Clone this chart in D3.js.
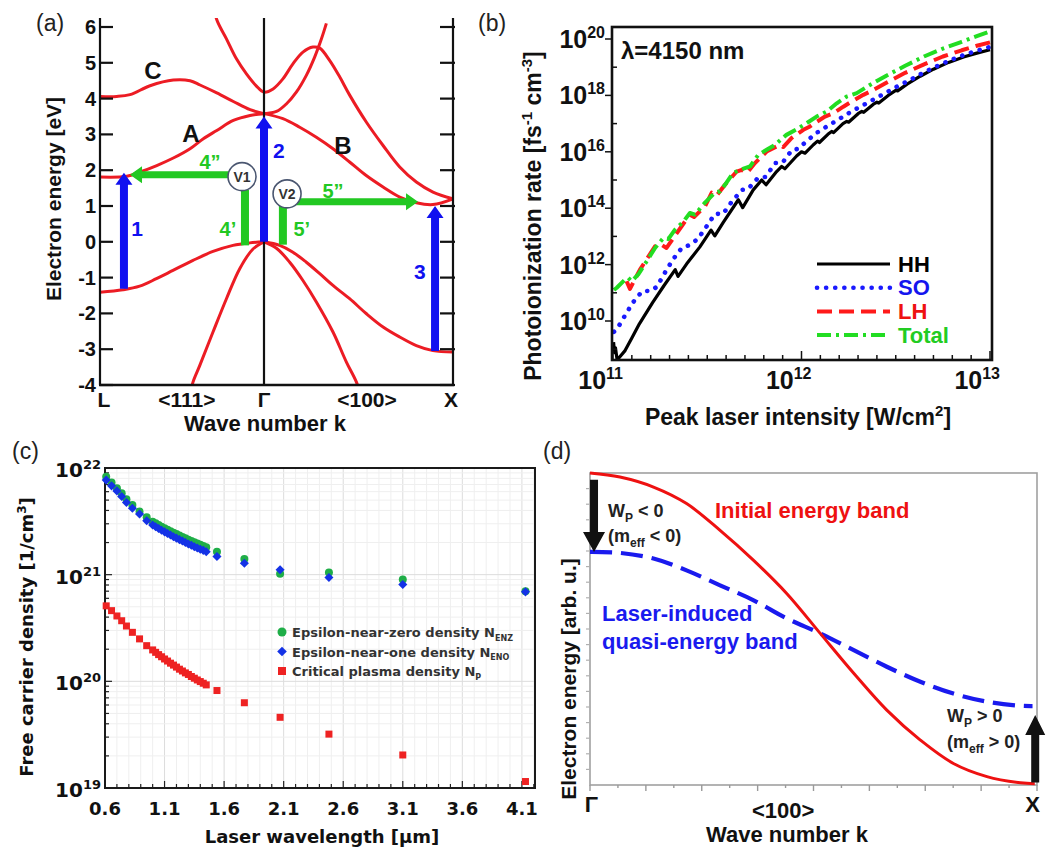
<!DOCTYPE html>
<html>
<head>
  <meta charset="utf-8">
  <script src="https://d3js.org/d3.v7.min.js"></script>
  <style>
    body { margin: 0; background: #ffffff; }
    svg { display: block; font-family: "Liberation Sans", Arial, sans-serif; }
  </style>
</head>
<body>
<svg id="fig" width="1056" height="850"></svg>
<script>
// ---------- (a) band structure, [k, E]  (k: L=-1, Γ=0, X=1)
const bandC  = [[-1,4.06],[-0.898,4.06],[-0.817,4.11],[-0.695,4.36],[-0.553,4.52],[-0.451,4.5],[-0.39,4.38],[-0.288,4.16],[-0.187,3.92],[-0.085,3.69],[0,3.58]]
const bandA  = [[-1,1.81],[-0.837,1.83],[-0.756,1.95],[-0.654,2.13],[-0.553,2.34],[-0.451,2.6],[-0.37,2.88],[-0.288,3.11],[-0.187,3.39],[-0.085,3.53],[0,3.58]]
const bandB  = [[0,3.58],[0.1,3.44],[0.189,3.2],[0.277,2.92],[0.365,2.6],[0.453,2.23],[0.541,1.85],[0.63,1.53],[0.718,1.25],[0.806,1.09],[0.894,1.04],[1,1.2]]
const bandD  = [[-0.31,6.8],[-0.29,6.23],[-0.229,5.67],[-0.168,5.11],[-0.107,4.69],[-0.046,4.35],[0,4.18],[0.048,4.27],[0.1,4.55],[0.153,4.97],[0.206,5.3],[0.259,5.44],[0.295,5.41],[0.348,5.06],[0.401,4.6],[0.454,4.09],[0.542,3.34],[0.63,2.69],[0.718,2.09],[0.806,1.67],[0.894,1.39],[1,1.2]]
const bandE  = [[0,3.58],[0.066,3.64],[0.118,3.85],[0.171,4.18],[0.224,4.65],[0.268,5.16],[0.304,5.67],[0.33,6.1]]
const bandV1 = [[-1,-1.41],[-0.86,-1.34],[-0.758,-1.24],[-0.656,-1.03],[-0.555,-0.8],[-0.433,-0.52],[-0.311,-0.27],[-0.189,-0.1],[-0.087,-0.03],[0,0]]
const bandVX = [[0,0],[0.083,-0.1],[0.153,-0.29],[0.224,-0.57],[0.295,-0.89],[0.365,-1.22],[0.453,-1.59],[0.542,-2.01],[0.63,-2.38],[0.718,-2.66],[0.806,-2.9],[0.894,-3.04],[1,-3.08]]
const bandSL = [[0,0],[-0.067,-0.2],[-0.148,-0.75],[-0.229,-1.59],[-0.311,-2.52],[-0.392,-3.46],[-0.433,-3.92],[-0.45,-4.3]]
const bandSR = [[0,0],[0.066,-0.18],[0.136,-0.57],[0.206,-1.08],[0.277,-1.68],[0.365,-2.52],[0.436,-3.36],[0.489,-3.92],[0.51,-4.3]]
const energyTicks = [-4,-3,-2,-1,0,1,2,3,4,5,6]
const kTickLabels = ["L", "<111>", "Γ", "<100>", "X"]
const kTickPos = [-1, -0.47, 0, 0.545, 1]

// ---------- (b) photoionization rate, [log10 I, log10 rate]
const hhRate = [[11.003,9.25],[11.008,8.88],[11.013,9.05],[11.022,8.62],[11.064,8.95],[11.1,9.4],[11.14,9.9],[11.21,10.65],[11.27,11.25],[11.33,11.82],[11.345,11.58],[11.39,12.02],[11.46,12.62],[11.52,13.22],[11.54,13.02],[11.585,13.5],[11.665,14.3],[11.688,14.02],[11.744,14.65],[11.789,15.0],[11.812,14.83],[11.868,15.3],[11.895,15.48],[11.912,15.4],[11.974,15.85],[12.0,16.0],[12.019,15.95],[12.063,16.25],[12.085,16.38],[12.095,16.33],[12.14,16.62],[12.16,16.72],[12.17,16.68],[12.22,17.0],[12.24,17.08],[12.25,17.05],[12.3,17.35],[12.32,17.43],[12.33,17.4],[12.38,17.68],[12.4,17.76],[12.41,17.73],[12.46,18.0],[12.5,18.18],[12.51,18.16],[12.56,18.4],[12.63,18.68],[12.7,18.93],[12.78,19.17],[12.86,19.36],[12.93,19.5],[13.0,19.62]]
const soRate = [[11.005,9.62],[11.02,9.7],[11.064,10.2],[11.106,10.66],[11.154,11.05],[11.207,11.08],[11.233,11.22],[11.276,11.72],[11.318,12.18],[11.366,12.6],[11.414,12.71],[11.451,12.92],[11.499,13.38],[11.541,13.8],[11.584,13.8],[11.63,14.23],[11.685,14.65],[11.716,14.68],[11.77,15.08],[11.81,15.11],[11.86,15.6],[11.9,15.62],[11.95,16.07],[11.98,16.1],[12.03,16.39],[12.08,16.67],[12.135,16.9],[12.19,17.12],[12.24,17.33],[12.29,17.52],[12.34,17.7],[12.4,17.92],[12.46,18.14],[12.52,18.36],[12.58,18.56],[12.64,18.78],[12.7,18.98],[12.76,19.16],[12.82,19.33],[12.88,19.48],[12.94,19.6],[13.0,19.72]]
const lhRate = [[11.072,11.41],[11.09,11.14],[11.143,11.82],[11.223,12.65],[11.25,12.73],[11.284,12.59],[11.364,13.36],[11.408,13.77],[11.43,13.69],[11.488,14.06],[11.524,14.55],[11.55,14.45],[11.594,14.83],[11.656,15.3],[11.683,15.36],[11.71,15.25],[11.753,15.6],[11.815,16.01],[11.886,16.25],[11.903,16.17],[11.948,16.49],[12.01,16.78],[12.045,16.9],[12.07,17.02],[12.125,17.25],[12.17,17.37],[12.222,17.6],[12.266,17.78],[12.328,18.02],[12.363,18.13],[12.45,18.45],[12.55,18.8],[12.65,19.1],[12.75,19.38],[12.85,19.6],[12.93,19.76],[13.0,19.88]]
const totalRate = [[11.005,11.1],[11.02,11.18],[11.064,11.47],[11.081,11.53],[11.099,11.41],[11.134,11.65],[11.179,12.12],[11.223,12.59],[11.267,12.94],[11.294,12.91],[11.329,13.24],[11.374,13.53],[11.408,13.83],[11.435,13.77],[11.488,14.2],[11.541,14.55],[11.568,14.6],[11.594,14.83],[11.637,15.25],[11.674,15.36],[11.727,15.48],[11.77,15.89],[11.815,16.07],[11.86,16.25],[11.92,16.6],[11.975,16.8],[12.028,17.02],[12.08,17.25],[12.134,17.43],[12.187,17.72],[12.24,17.96],[12.293,18.08],[12.363,18.37],[12.45,18.7],[12.55,19.05],[12.65,19.38],[12.75,19.66],[12.85,19.9],[12.93,20.1],[13.0,20.27]]
const rateSeries = ["HH", "SO", "LH", "Total"]
const rateExpTicks = [10, 12, 14, 16, 18, 20]
const intensityExpTicks = [11, 12, 13]

// ---------- (c) free carrier density vs wavelength [µm]
const wavelength = [0.61,0.655,0.7,0.74,0.78,0.83,0.89,0.95,
  1.0,1.025,1.05,1.075,1.1,1.125,1.15,1.175,1.2,1.225,1.25,1.275,1.3,1.325,1.35,1.375,1.4,1.425,1.45,
  1.54,1.77,2.07,2.48,3.1,4.13]
const nENZ = [8.3e21,7.3e21,6.45e21,5.8e21,5.1e21,4.5e21,3.9e21,3.45e21,
  3.14e21,3.03e21,2.92e21,2.82e21,2.73e21,2.64e21,2.55e21,2.47e21,2.4e21,2.33e21,2.26e21,2.19e21,2.13e21,2.07e21,2.01e21,1.96e21,1.91e21,1.86e21,1.81e21,
  1.64e21,1.4e21,1.02e21,1.05e21,9.0e20,7.0e20]
const nENO = [7.7e21,6.8e21,6.1e21,5.4e21,4.75e21,4.2e21,3.7e21,3.2e21,
  2.92e21,2.81e21,2.71e21,2.61e21,2.52e21,2.43e21,2.35e21,2.27e21,2.2e21,2.13e21,2.07e21,2.0e21,1.94e21,1.89e21,1.83e21,1.78e21,1.73e21,1.69e21,1.64e21,
  1.48e21,1.28e21,1.11e21,9.4e20,8.1e20,6.9e20]
const nP = [5.1e20,4.6e20,4.1e20,3.7e20,3.3e20,2.88e20,2.5e20,2.16e20,
  1.97e20,1.87e20,1.78e20,1.7e20,1.62e20,1.55e20,1.48e20,1.42e20,1.36e20,1.3e20,1.25e20,1.2e20,1.16e20,1.11e20,1.07e20,1.03e20,9.95e19,9.6e19,9.26e19,
  8.2e19,6.3e19,4.6e19,3.2e19,2.04e19,1.15e19]
const wavelengthTicks = [0.6, 1.1, 1.6, 2.1, 2.6, 3.1, 3.6, 4.1]
const densityExpTicks = [19, 20, 21, 22]

// ---------- (d) schematic bands, [k, E] (Γ=0, X=1)
const initialBand = [[0,1.0],[0.067,0.987],[0.142,0.955],[0.216,0.902],[0.291,0.816],[0.366,0.72],[0.44,0.614],[0.515,0.486],[0.59,0.358],[0.664,0.24],[0.739,0.144],[0.813,0.069],[0.888,0.027],[0.963,0.007],[0.995,0.004]]
const quasiBand = [[0,0.747],[0.067,0.744],[0.142,0.726],[0.216,0.688],[0.291,0.64],[0.366,0.592],[0.44,0.534],[0.515,0.486],[0.59,0.432],[0.664,0.379],[0.739,0.331],[0.813,0.293],[0.888,0.267],[0.963,0.254],[0.99,0.253]]

const SANS = "'Liberation Sans', Arial, sans-serif"
const WIDE = "'DejaVu Sans', Verdana, sans-serif"

const svg = d3.select("#fig")
const defs = svg.append("defs")

function rich(t, parts, size) {
  let shift = 0
  parts.forEach(p => {
    const kind = p[1] || "n"
    const target = kind === "sup" ? -0.4 * size : kind === "sub" ? 0.28 * size : 0
    t.append("tspan")
      .attr("dy", target - shift)
      .attr("font-size", kind === "n" ? size : Math.round(size * 0.65))
      .text(p[0])
    shift = target
  })
  return t
}

function arrow(g, x1, y1, x2, y2, color, sw, hw, hl) {
  const dx = x2 - x1, dy = y2 - y1, len = Math.hypot(dx, dy)
  const ux = dx / len, uy = dy / len, px = -uy, py = ux
  const bx = x2 - ux * hl, by = y2 - uy * hl
  const pts = [
    [x1 + px * sw / 2, y1 + py * sw / 2],
    [bx + px * sw / 2, by + py * sw / 2],
    [bx + px * hw / 2, by + py * hw / 2],
    [x2, y2],
    [bx - px * hw / 2, by - py * hw / 2],
    [bx - px * sw / 2, by - py * sw / 2],
    [x1 - px * sw / 2, y1 - py * sw / 2]
  ]
  g.append("polygon").attr("points", pts.map(p => p.join(",")).join(" ")).attr("fill", color)
}

function panelLabel(x, y, s) {
  svg.append("text").attr("x", x).attr("y", y)
    .attr("font-family", SANS).attr("font-size", 23).attr("fill", "#222")
    .text(s)
}

panelLabel(36, 31, "(a)")
panelLabel(478, 31, "(b)")
panelLabel(12, 459, "(c)")
panelLabel(543, 459, "(d)")

// ===================== (a)
{
  const g = svg.append("g")
  const x = d3.scaleLinear().domain([-1, 0, 1]).range([100, 264, 453])
  const y = d3.scaleLinear().domain([-4, 6]).range([385, 27])
  const red = "#ec1c24", blue = "#1010f0", green = "#22c822"

  defs.append("clipPath").attr("id", "clipA").append("rect")
    .attr("x", x(-1)).attr("y", 18).attr("width", x(1) - x(-1)).attr("height", y(-4) - 18)

  const line = d3.line().x(d => x(d[0])).y(d => y(d[1])).curve(d3.curveCatmullRom.alpha(0.5))
  g.append("g").attr("clip-path", "url(#clipA)")
    .selectAll("path")
    .data([bandC, bandA, bandB, bandD, bandE, bandV1, bandVX, bandSL, bandSR])
    .join("path")
    .attr("d", line).attr("fill", "none").attr("stroke", red).attr("stroke-width", 3)

  // frame lines
  ;[-1, 0, 1].forEach(k => {
    g.append("line").attr("x1", x(k)).attr("x2", x(k)).attr("y1", 18).attr("y2", y(-4))
      .attr("stroke", "#111").attr("stroke-width", 2.2)
  })
  g.append("line").attr("x1", x(-1) - 1).attr("x2", x(1) + 1).attr("y1", y(-4)).attr("y2", y(-4))
    .attr("stroke", "#111").attr("stroke-width", 2.5)

  g.selectAll(".tl").data(energyTicks).join("line")
    .attr("x1", x(-1)).attr("x2", x(-1) + 13).attr("y1", d => y(d)).attr("y2", d => y(d))
    .attr("stroke", "#111").attr("stroke-width", 2.2)
  g.selectAll(".tr").data(energyTicks).join("line")
    .attr("x1", x(1) - 13).attr("x2", x(1) + 2).attr("y1", d => y(d)).attr("y2", d => y(d))
    .attr("stroke", "#111").attr("stroke-width", 2.2)

  g.selectAll(".ylab").data(energyTicks).join("text")
    .attr("x", x(-1) - 4).attr("y", d => y(d) + 7)
    .attr("text-anchor", "end").attr("font-size", 20).attr("font-weight", "bold").attr("fill", "#111")
    .text(d => d)

  g.selectAll(".xlab").data(kTickLabels).join("text")
    .attr("x", (d, i) => x(kTickPos[i]) + (i === 0 ? 4 : i === 4 ? -2 : 0)).attr("y", 407)
    .attr("text-anchor", "middle").attr("font-size", 21).attr("font-weight", "bold").attr("fill", "#111")
    .text(d => d)

  g.append("text").attr("x", 265).attr("y", 431).attr("text-anchor", "middle")
    .attr("font-size", 22).attr("font-weight", "bold").attr("fill", "#111").text("Wave number k")
  g.append("text").attr("transform", "translate(53,199) rotate(-90)")
    .attr("text-anchor", "middle").attr("dominant-baseline", "central")
    .attr("font-size", 21).attr("font-weight", "bold").attr("fill", "#111").text("Electron energy [eV]")

  // transitions
  const blueArrows = [[-0.854, -1.31, 1.93], [0.0, 0.0, 3.5], [0.905, -3.05, 1.0]]
  blueArrows.forEach(a => arrow(g, x(a[0]), y(a[1]), x(a[0]), y(a[2]), blue, 8, 17, 12))

  const v1 = [-0.134, 1.82], v2 = [0.122, 1.34]
  // 4' and 4''
  g.append("rect").attr("x", x(-0.116) - 4).attr("y", y(1.45)).attr("width", 8).attr("height", y(-0.1) - y(1.45)).attr("fill", green)
  arrow(g, x(v1[0]), y(1.87), x(-0.817), y(1.87), green, 7, 17, 12)
  // 5' and 5''
  g.append("rect").attr("x", x(0.1) - 4).attr("y", y(1.12) - 3.5).attr("width", 8).attr("height", y(-0.08) - y(1.12) + 3.5).attr("fill", green)
  arrow(g, x(0.1) - 4, y(1.12), x(0.815), y(1.12), green, 7, 17, 12)

  ;[[v1, "V1"], [v2, "V2"]].forEach(([c, s]) => {
    g.append("circle").attr("cx", x(c[0])).attr("cy", y(c[1])).attr("r", 14)
      .attr("fill", "#fff").attr("stroke", "#4a5670").attr("stroke-width", 1.6)
    g.append("text").attr("x", x(c[0])).attr("y", y(c[1]) + 5).attr("text-anchor", "middle")
      .attr("font-size", 14).attr("font-weight", "bold").attr("fill", "#333").text(s)
  })

  const labelsA = [
    ["C", -0.677, 4.78, "#111", 24], ["A", -0.445, 3.02, "#111", 24], ["B", 0.418, 2.68, "#111", 24],
    ["1", -0.774, 0.36, blue, 21], ["2", 0.079, 2.54, blue, 21], ["3", 0.825, -0.84, blue, 21],
    ["4\u201d", -0.329, 2.23, green, 20], ["4\u2019", -0.22, 0.36, green, 20],
    ["5\u2019", 0.2, 0.36, green, 20], ["5\u201d", 0.365, 1.42, green, 20]
  ]
  g.selectAll(".lab").data(labelsA).join("text")
    .attr("x", d => x(d[1])).attr("y", d => y(d[2]))
    .attr("text-anchor", "middle").attr("dominant-baseline", "central")
    .attr("font-size", d => d[4]).attr("font-weight", "bold").attr("fill", d => d[3])
    .text(d => d[0])
}

// ===================== (b)
{
  const g = svg.append("g")
  const x = d3.scaleLog().domain([1e11, 1e13]).range([613, 990])
  const y = d3.scaleLog().domain([1e10, 1e20]).range([321, 39])
  const L = 612, R = 992, T = 27, B = 360

  defs.append("clipPath").attr("id", "clipB").append("rect")
    .attr("x", L).attr("y", T).attr("width", R - L).attr("height", B - T)

  const styles = {
    HH:    {data: hhRate, color: "#000000", text: "#000000", width: 3.2, dash: null, cap: "butt"},
    SO:    {data: soRate, color: "#1a1aff", text: "#1515ee", width: 4.6, dash: "0.1 9", cap: "round"},
    LH:    {data: lhRate, color: "#ff1a1a", text: "#ee1111", width: 4, dash: "15 7", cap: "butt"},
    Total: {data: totalRate, color: "#22dd22", text: "#22cc22", width: 4, dash: "14 5 3 5", cap: "butt"}
  }

  const line = d3.line().x(d => x(10 ** d[0])).y(d => y(10 ** d[1]))
  g.append("g").attr("clip-path", "url(#clipB)")
    .selectAll("path").data(rateSeries).join("path")
    .attr("d", s => line(styles[s].data))
    .attr("fill", "none").attr("stroke", s => styles[s].color)
    .attr("stroke-width", s => styles[s].width)
    .attr("stroke-dasharray", s => styles[s].dash)
    .attr("stroke-linecap", s => styles[s].cap)
    .attr("stroke-linejoin", "round")

  g.append("rect").attr("x", L).attr("y", T).attr("width", R - L).attr("height", B - T)
    .attr("fill", "none").attr("stroke", "#111").attr("stroke-width", 2.6)

  // x ticks: minor every 0.1 decade
  const minorX = d3.range(0, 21).map(i => 10 ** (11 + i / 10))
  g.selectAll(".mx").data(minorX).join("line")
    .attr("x1", d => x(d)).attr("x2", d => x(d)).attr("y1", B).attr("y2", (d, i) => i % 10 === 0 ? B - 9 : B - 5)
    .attr("stroke", "#111").attr("stroke-width", 1.5)
  const minorY = d3.range(9, 21).map(e => 10 ** e)
  g.selectAll(".my").data(minorY).join("line")
    .attr("x1", d => Math.log10(d) % 2 === 0 ? L - 7 : L).attr("x2", d => Math.log10(d) % 2 === 0 ? L : L + 5)
    .attr("y1", d => y(d)).attr("y2", d => y(d))
    .attr("stroke", "#111").attr("stroke-width", 1.5)

  g.selectAll(".yl").data(rateExpTicks).join("text")
    .attr("x", 605).attr("y", d => y(10 ** d) + 9)
    .attr("text-anchor", "end").attr("font-weight", "bold").attr("fill", "#111")
    .each(function (d) { rich(d3.select(this), [["10"], [String(d), "sup"]], 25) })
  g.selectAll(".xl").data(intensityExpTicks).join("text")
    .attr("x", d => x(10 ** d) + 10).attr("y", 389)
    .attr("text-anchor", "end").attr("font-weight", "bold").attr("fill", "#111")
    .each(function (d) { rich(d3.select(this), [["10"], [String(d), "sup"]], 25) })

  rich(g.append("text").attr("x", 798).attr("y", 425).attr("text-anchor", "middle")
    .attr("font-weight", "bold").attr("fill", "#111"),
    [["Peak laser intensity [W/cm"], ["2", "sup"], ["]"]], 23)
  rich(g.append("text").attr("transform", "translate(541,216) rotate(-90)").attr("text-anchor", "middle")
    .attr("font-weight", "bold").attr("fill", "#111"),
    [["Photoionization rate [fs"], ["-1", "sup"], [" cm"], ["-3", "sup"], ["]"]], 23)

  rich(g.append("text").attr("x", 621).attr("y", 59).attr("font-weight", "bold").attr("fill", "#111"),
    [["λ=4150 nm"]], 24)

  // legend
  const leg = g.selectAll(".leg").data(rateSeries).join("g")
    .attr("transform", (d, i) => `translate(0,${264 + i * 23.7})`)
  leg.append("line").attr("x1", 817).attr("x2", 890).attr("y1", 0).attr("y2", 0)
    .attr("stroke", s => styles[s].color).attr("stroke-width", s => styles[s].width)
    .attr("stroke-dasharray", s => styles[s].dash).attr("stroke-linecap", s => styles[s].cap)
  leg.append("text").attr("x", 898).attr("y", 0).attr("dominant-baseline", "central")
    .attr("font-size", 22).attr("font-weight", "bold").attr("fill", s => styles[s].text)
    .text(s => s)
}

// ===================== (c)
{
  const g = svg.append("g").attr("font-family", WIDE)
  const x = d3.scaleLinear().domain([0.6, 4.21]).range([105, 535])
  const y = d3.scaleLog().domain([1e19, 1e22]).range([788, 468])
  const L = 105, R = 535, T = 468, B = 788

  const vGrid = d3.range(6, 43).map(v => v / 10)
  g.selectAll(".vg").data(vGrid).join("line")
    .attr("x1", d => x(d)).attr("x2", d => x(d)).attr("y1", T).attr("y2", B)
    .attr("stroke", (d, i) => i % 5 === 0 ? "#dcdcdc" : "#efefef").attr("stroke-width", 1)
  const hGrid = []
  densityExpTicks.slice(0, 3).forEach(e => d3.range(1, 10).forEach(m => hGrid.push(m * 10 ** e)))
  g.selectAll(".hg").data(hGrid).join("line")
    .attr("x1", L).attr("x2", R).attr("y1", d => y(d)).attr("y2", d => y(d))
    .attr("stroke", (d, i) => i % 9 === 0 ? "#dcdcdc" : "#efefef").attr("stroke-width", 1)

  g.selectAll(".tx").data(vGrid).join("line")
    .attr("x1", d => x(d)).attr("x2", d => x(d)).attr("y1", B).attr("y2", (d, i) => i % 5 === 0 ? B - 7 : B - 4)
    .attr("stroke", "#222").attr("stroke-width", 1.2)
  g.selectAll(".ty").data(hGrid).join("line")
    .attr("x1", L).attr("x2", (d, i) => i % 9 === 0 ? L + 7 : L + 4).attr("y1", d => y(d)).attr("y2", d => y(d))
    .attr("stroke", "#222").attr("stroke-width", 1.2)

  g.append("rect").attr("x", L).attr("y", T).attr("width", R - L).attr("height", B - T)
    .attr("fill", "none").attr("stroke", "#1a1a1a").attr("stroke-width", 2)

  const rows = wavelength.map((w, i) => ({w, enz: nENZ[i], eno: nENO[i], np: nP[i]}))
  g.selectAll(".pz").data(rows).join("circle")
    .attr("cx", d => x(d.w)).attr("cy", d => y(d.enz)).attr("r", 4).attr("fill", "#1fae48")
  g.selectAll(".po").data(rows).join("rect")
    .attr("x", -3.2).attr("y", -3.2).attr("width", 6.4).attr("height", 6.4)
    .attr("transform", d => `translate(${x(d.w)},${y(d.eno)}) rotate(45)`).attr("fill", "#1432e6")
  g.selectAll(".pp").data(rows).join("rect")
    .attr("x", d => x(d.w) - 3.5).attr("y", d => y(d.np) - 3.5).attr("width", 7).attr("height", 7)
    .attr("fill", "#ee2222")

  g.selectAll(".yl").data(densityExpTicks).join("text")
    .attr("x", 101).attr("y", d => y(10 ** d) + 9)
    .attr("text-anchor", "end").attr("font-weight", "bold").attr("fill", "#111")
    .each(function (d) { rich(d3.select(this), [["10"], [String(d), "sup"]], 20) })
  g.selectAll(".xl").data(wavelengthTicks).join("text")
    .attr("x", d => x(d)).attr("y", 815).attr("text-anchor", "middle")
    .attr("font-size", 18).attr("font-weight", "bold").attr("fill", "#111")
    .text(d => d.toFixed(1))

  g.append("text").attr("x", 322).attr("y", 843).attr("text-anchor", "middle")
    .attr("font-size", 18).attr("font-weight", "bold").attr("fill", "#111").text("Laser wavelength [µm]")
  rich(g.append("text").attr("transform", "translate(33,637) rotate(-90)").attr("text-anchor", "middle")
    .attr("font-weight", "bold").attr("fill", "#111"),
    [["Free carrier density [1/cm"], ["3", "sup"], ["]"]], 18)

  const legendC = [
    {name: "Epsilon-near-zero density N", sub: "ENZ", color: "#1fae48", shape: "circle"},
    {name: "Epsilon-near-one density N", sub: "ENO", color: "#1432e6", shape: "diamond"},
    {name: "Critical plasma density N", sub: "P", color: "#ee2222", shape: "square"}
  ]
  const lg = g.selectAll(".lg").data(legendC).join("g")
    .attr("transform", (d, i) => `translate(282,${632 + i * 19.5})`)
  lg.filter(d => d.shape === "circle").append("circle").attr("r", 4.5).attr("fill", d => d.color)
  lg.filter(d => d.shape === "diamond").append("rect").attr("x", -3.4).attr("y", -3.4)
    .attr("width", 6.8).attr("height", 6.8).attr("transform", "rotate(45)").attr("fill", d => d.color)
  lg.filter(d => d.shape === "square").append("rect").attr("x", -4).attr("y", -4)
    .attr("width", 8).attr("height", 8).attr("fill", d => d.color)
  lg.append("text").attr("x", 10).attr("y", 5).attr("fill", "#333").attr("font-weight", "bold")
    .each(function (d) { rich(d3.select(this), [[d.name], [d.sub, "sub"]], 13) })
}

// ===================== (d)
{
  const g = svg.append("g")
  const x = d3.scaleLinear().domain([0, 1]).range([590, 1037])
  const y = d3.scaleLinear().domain([0, 1]).range([785, 473])

  g.append("rect").attr("x", x(0)).attr("y", y(1)).attr("width", x(1) - x(0)).attr("height", y(0) - y(1))
    .attr("fill", "none").attr("stroke", "#a0a0a0").attr("stroke-width", 1.6)
  g.selectAll(".bt").data(d3.range(0, 17).map(i => i / 16)).join("line")
    .attr("x1", d => x(d)).attr("x2", d => x(d)).attr("y1", y(0)).attr("y2", (d, i) => i % 2 === 0 ? y(0) + 6 : y(0) + 3)
    .attr("stroke", "#9a9a9a").attr("stroke-width", 1.4)
  g.selectAll(".lt").data(d3.range(1, 20).map(i => i / 20)).join("line")
    .attr("x1", x(0) - 4).attr("x2", x(0)).attr("y1", d => y(d)).attr("y2", d => y(d))
    .attr("stroke", "#b0b0b0").attr("stroke-width", 1.2)

  const line = d3.line().x(d => x(d[0])).y(d => y(d[1])).curve(d3.curveCatmullRom.alpha(0.5))
  g.append("path").attr("d", line(quasiBand)).attr("fill", "none")
    .attr("stroke", "#1a1aee").attr("stroke-width", 4.2).attr("stroke-dasharray", "22 9")
  g.append("path").attr("d", line(initialBand)).attr("fill", "none")
    .attr("stroke", "#ee1111").attr("stroke-width", 3)

  arrow(g, x(0.009), y(0.978), x(0.009), y(0.747), "#111", 8, 22, 20)
  arrow(g, x(0.996), y(0.008), x(0.996), y(0.224), "#111", 8, 20, 20)

  const tg = g.append("g").attr("font-weight", "bold")
  rich(tg.append("text").attr("x", 608).attr("y", 517).attr("fill", "#222"), [["W"], ["P", "sub"], [" < 0"]], 18)
  rich(tg.append("text").attr("x", 608).attr("y", 542).attr("fill", "#222"), [["(m"], ["eff", "sub"], [" < 0)"]], 18)
  rich(tg.append("text").attr("x", 947).attr("y", 722).attr("fill", "#222"), [["W"], ["P", "sub"], [" > 0"]], 18)
  rich(tg.append("text").attr("x", 947).attr("y", 748).attr("fill", "#222"), [["(m"], ["eff", "sub"], [" > 0)"]], 18)
  tg.append("text").attr("x", 715).attr("y", 518).attr("font-size", 22).attr("fill", "#ee1111").text("Initial energy band")
  tg.append("text").attr("x", 602).attr("y", 621).attr("font-size", 22).attr("fill", "#1a1aee").text("Laser-induced")
  tg.append("text").attr("x", 602).attr("y", 649).attr("font-size", 22).attr("fill", "#1a1aee").text("quasi-energy band")

  const kd = [["Γ", 0.003], ["<100>", 0.432], ["X", 0.99]]
  tg.selectAll(".kl").data(kd).join("text")
    .attr("x", d => x(d[1])).attr("y", (d, i) => i === 1 ? 818 : 812).attr("text-anchor", "middle")
    .attr("font-size", 22).attr("fill", "#111").text(d => d[0])
  tg.append("text").attr("x", 787).attr("y", 842).attr("text-anchor", "middle")
    .attr("font-size", 22).attr("fill", "#111").text("Wave number k")
  tg.append("text").attr("transform", "translate(568,679) rotate(-90)").attr("text-anchor", "middle")
    .attr("dominant-baseline", "central").attr("font-size", 21).attr("fill", "#111")
    .text("Electron energy [arb. u.]")
}
</script>
</body>
</html>
